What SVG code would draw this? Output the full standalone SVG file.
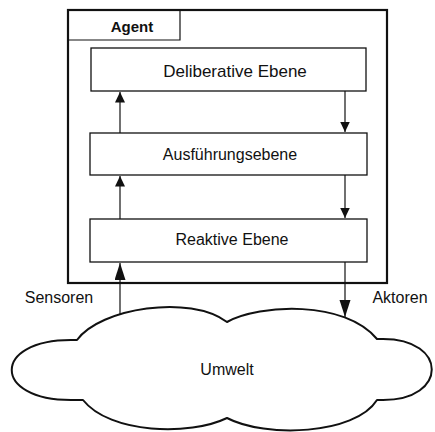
<svg xmlns="http://www.w3.org/2000/svg" width="435" height="432" viewBox="0 0 435 432">
  <style>
    .frame { fill: none; stroke: #111; stroke-width: 2.2; }
    .box { fill: #fff; stroke: #111; stroke-width: 1.3; }
    .wire { fill: none; stroke: #111; stroke-width: 1.2; }
    .cloud { fill: #fff; stroke: #111; stroke-width: 2; stroke-linejoin: round; }
    .lbl { font-family: "Liberation Sans", Arial, sans-serif; font-size: 16px; fill: #111; text-anchor: middle; }
    .title { font-family: "Liberation Sans", Arial, sans-serif; font-size: 15px; font-weight: bold; fill: #111; text-anchor: middle; }
  </style>
  <defs>
    <marker id="head" markerUnits="userSpaceOnUse" markerWidth="11" markerHeight="11" refX="10.5" refY="5" orient="auto">
      <path d="M0,0 L10.5,5 L0,10 Z" fill="#111"/>
    </marker>
    <marker id="headLong" markerUnits="userSpaceOnUse" markerWidth="18" markerHeight="12" refX="17" refY="5.5" orient="auto">
      <path d="M0,0 L17,5.5 L0,11 Z" fill="#111"/>
    </marker>
  </defs>

  <rect width="435" height="432" fill="#fff"/>

  <!-- agent frame with its tab -->
  <g id="agent">
    <rect class="frame" x="68" y="10" width="319" height="273"/>
    <path class="wire" d="M68,40 H180 V10" stroke-width="1.3"/>
    <text class="title" x="132" y="32">Agent</text>
  </g>

  <g id="deliberative">
    <rect class="box" x="91" y="48" width="275" height="43"/>
    <text class="lbl" x="235" y="76.5" style="font-size:17px">Deliberative Ebene</text>
  </g>

  <g id="execution">
    <rect class="box" x="90" y="133" width="277" height="42"/>
    <text class="lbl" x="230" y="160">Ausführungsebene</text>
  </g>

  <g id="reactive">
    <rect class="box" x="90" y="219" width="277" height="43"/>
    <text class="lbl" x="232" y="245">Reaktive Ebene</text>
  </g>

  <g id="environment">
    <path class="cloud" d="M77,340 C100,308 190,294 227,322 C260,304 345,300 377,339 L383,339 C448,339 448,400 383,400 L377,400 C355,435 265,438 227,418 C190,436 110,434 83,400 L71,400 C-8,400 -8,340 71,340 Z"/>
    <text class="lbl" x="227" y="375">Umwelt</text>
  </g>

  <g id="connectors">
    <line class="wire" x1="120" y1="133" x2="120" y2="92" marker-end="url(#head)"/>
    <line class="wire" x1="345" y1="91" x2="345" y2="132" marker-end="url(#head)"/>
    <line class="wire" x1="120" y1="219" x2="120" y2="176" marker-end="url(#head)"/>
    <line class="wire" x1="345" y1="175" x2="345" y2="218" marker-end="url(#head)"/>
    <line class="wire" x1="120" y1="315" x2="120" y2="263" marker-end="url(#headLong)"/>
    <line class="wire" x1="345" y1="262" x2="345" y2="317" marker-end="url(#headLong)"/>
  </g>

  <g id="labels">
    <text class="lbl" x="59" y="303">Sensoren</text>
    <text class="lbl" x="400" y="303">Aktoren</text>
  </g>
</svg>
